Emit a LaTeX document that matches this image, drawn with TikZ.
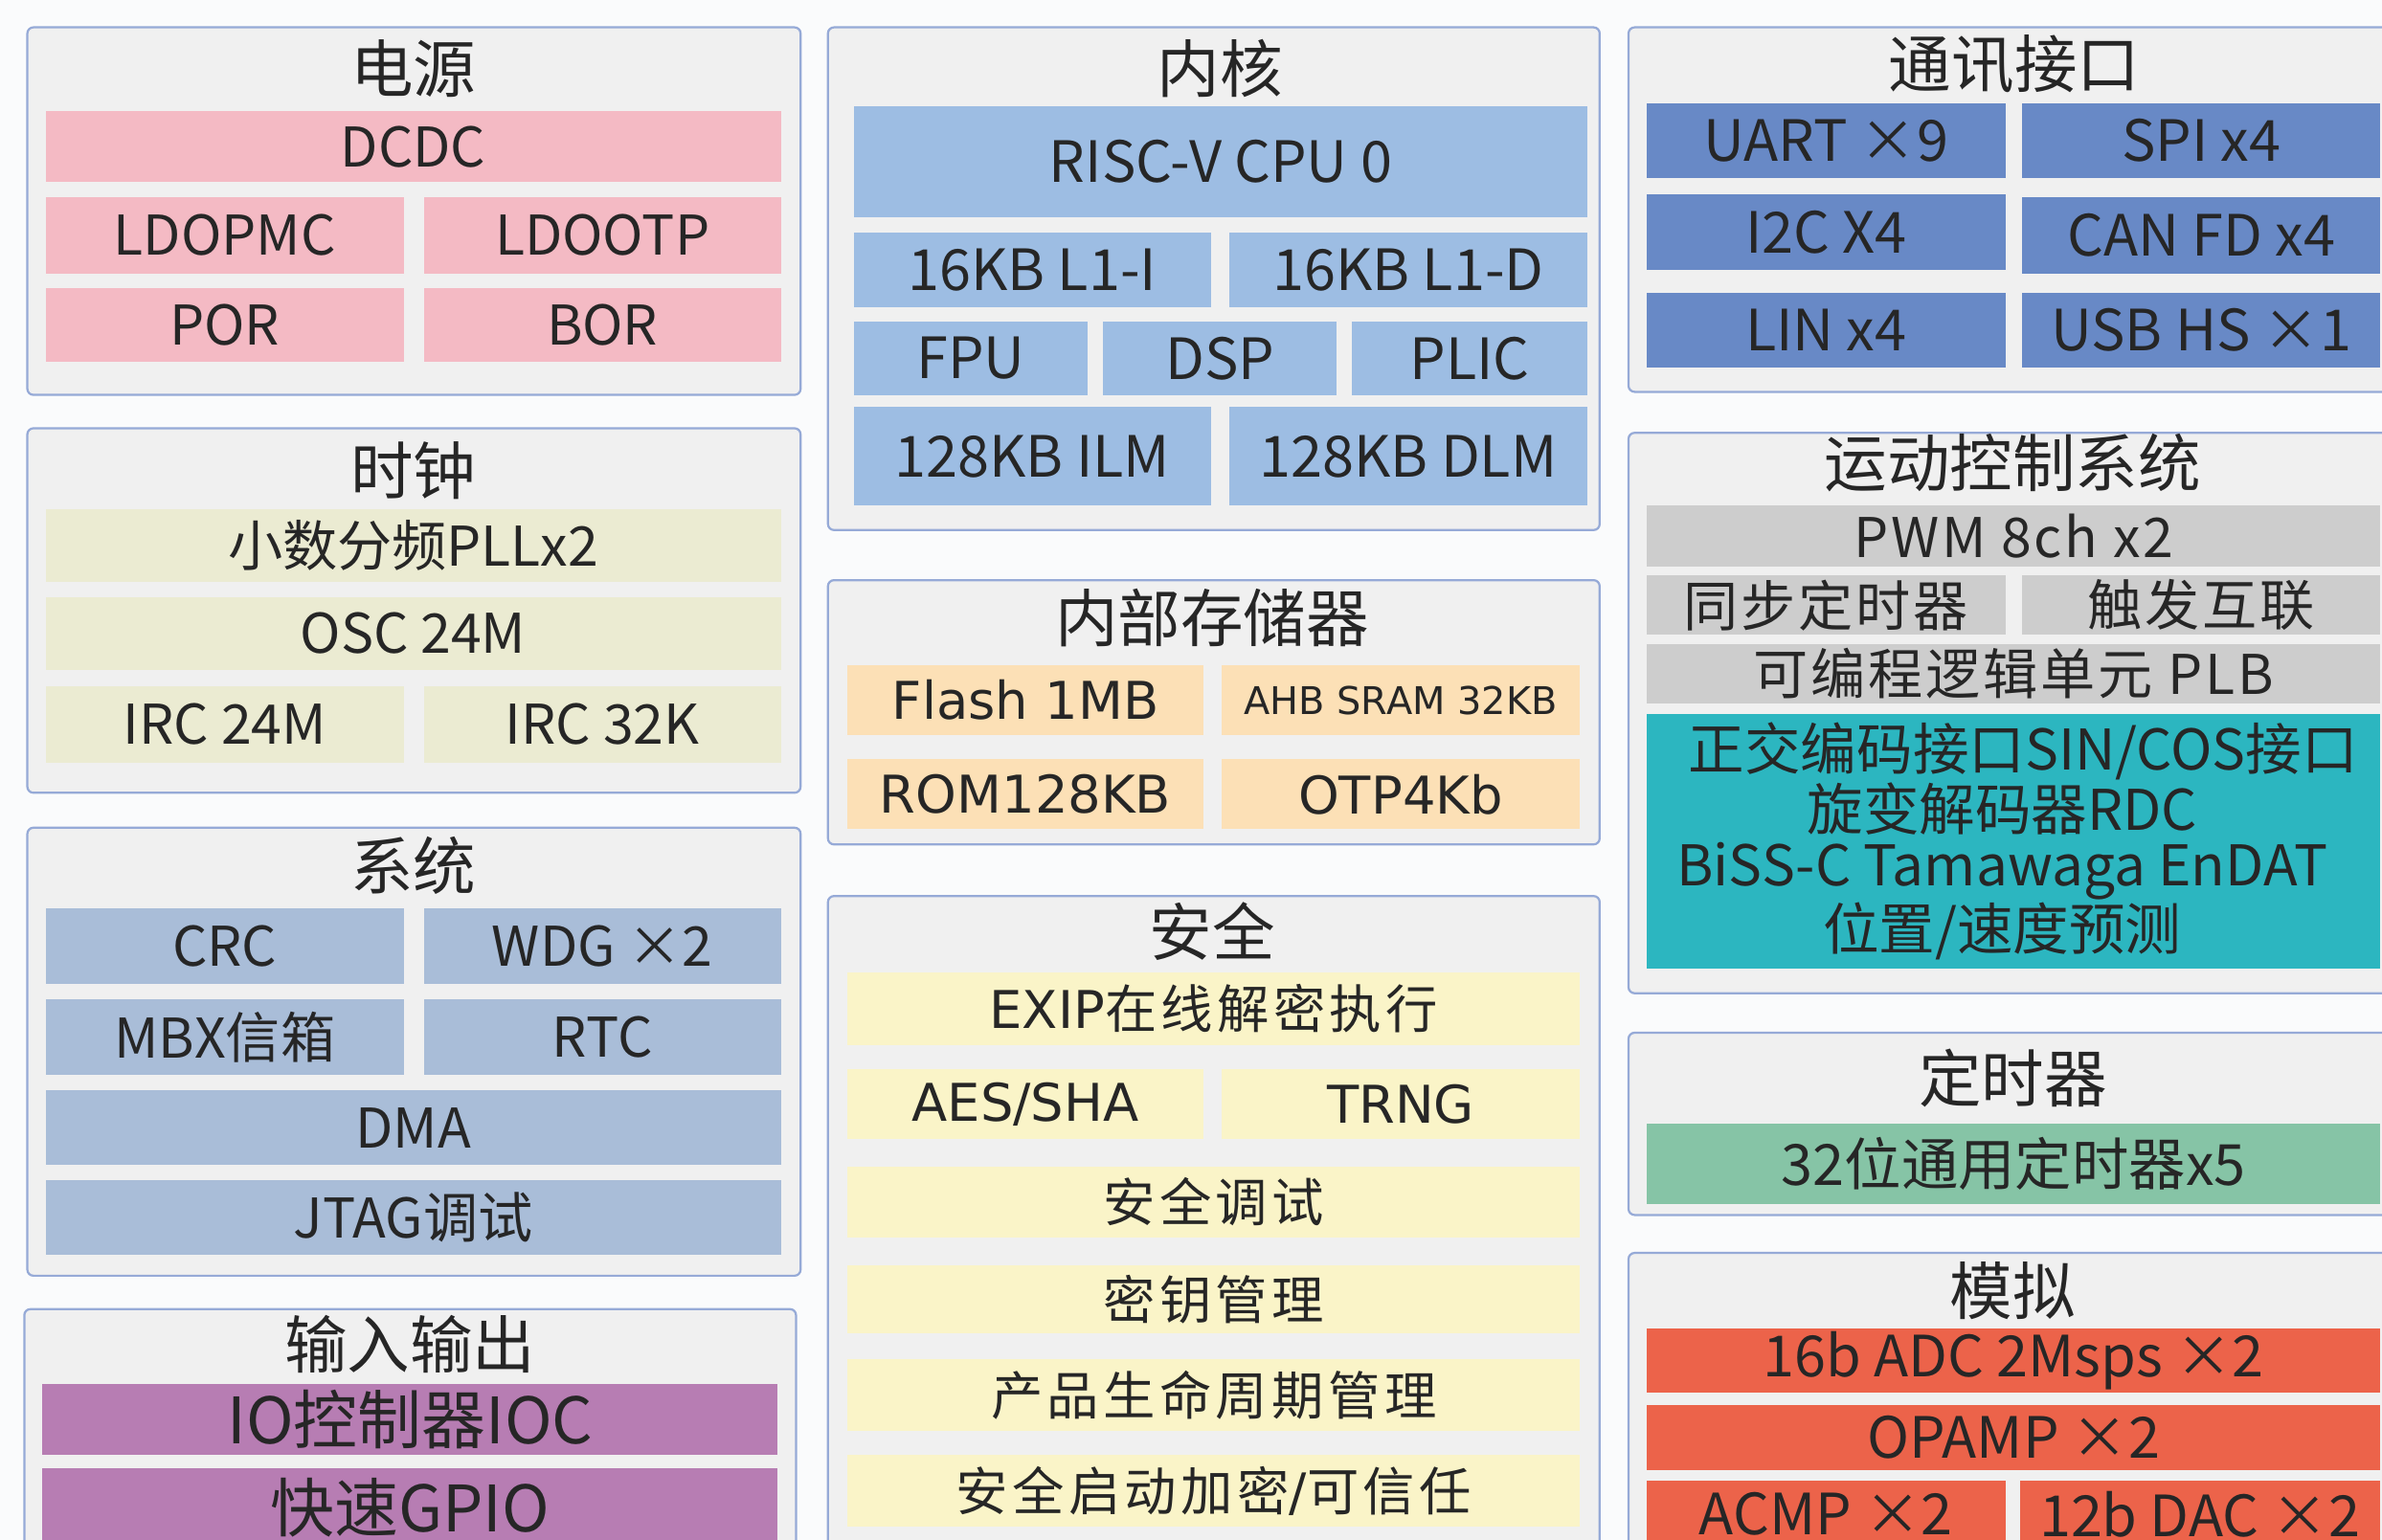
\documentclass[tikz,border=0pt]{standalone}
\usepackage{fontspec}
\setmainfont{Noto Sans CJK SC}
\newfontfamily\cjs[LetterSpace=8]{Noto Sans CJK SC}
\newfontfamily\semif[LetterSpace=5]{Noto Sans CJK SC}
\newfontfamily\dvf{DejaVu Sans}
\definecolor{bgc}{RGB}{250,251,252}
\definecolor{grpf}{RGB}{240,240,240}
\definecolor{grpb}{RGB}{150,170,215}
\definecolor{txt}{RGB}{38,38,38}
\definecolor{pinkc}{RGB}{244,186,196}
\definecolor{corec}{RGB}{157,189,227}
\definecolor{commc}{RGB}{104,137,198}
\definecolor{clkc}{RGB}{235,235,210}
\definecolor{sysc}{RGB}{169,189,216}
\definecolor{ioc}{RGB}{183,125,179}
\definecolor{memc}{RGB}{252,224,182}
\definecolor{secc}{RGB}{250,244,200}
\definecolor{motc}{RGB}{205,205,205}
\definecolor{tealc}{RGB}{44,182,192}
\definecolor{timc}{RGB}{134,196,166}
\definecolor{anac}{RGB}{236,99,74}
\newcommand\blk[7]{%
  \pgfmathsetmacro\bw{(#4-#2)*0.2}%
  \pgfmathsetmacro\bh{(#5-#3)*0.2}%
  \node[#6,minimum width=\bw mm,minimum height=\bh mm] (#1) at ({(#2+#4)/2},{(#3+#5)/2}) {#7};}
\tikzset{
  grp/.style={draw=grpb,fill=grpf,line width=0.8pt,rounded corners=0.8mm,inner sep=0pt,outer sep=0pt},
  cellbox/.style={inner sep=0pt,outer sep=0pt,text=txt,align=center,font=\fontsize{20.5pt}{22pt}\selectfont},
  bigcell/.style={cellbox,font=\fontsize{21.3pt}{23pt}\selectfont},
  ttlbox/.style={inner sep=0pt,outer sep=0pt,text=txt,font=\fontsize{23.5pt}{25pt}\selectfont},
  xpk/.style={cellbox,fill=pinkc},
  xco/.style={bigcell,fill=corec},
  xcm/.style={bigcell,fill=commc},
  xck/.style={cellbox,fill=clkc},
  xsy/.style={cellbox,fill=sysc},
  xio/.style={cellbox,fill=ioc,font=\fontsize{24pt}{26pt}\selectfont},
  xme/.style={cellbox,fill=memc,font=\dvf\fontsize{19.5pt}{21pt}\selectfont},
  xse/.style={cellbox,fill=secc,font=\cjs\fontsize{19.5pt}{21pt}\selectfont},
  xmo/.style={cellbox,fill=motc,font=\semif\fontsize{20.5pt}{22pt}\selectfont},
  xte/.style={cellbox,fill=tealc},
  tealtext/.style={cellbox,font=\fontsize{21pt}{21pt}\selectfont},
  xti/.style={bigcell,fill=timc},
  xan/.style={bigcell,fill=anac},
}
\begin{document}
\begin{tikzpicture}[x=0.2mm,y=-0.2mm]
\clip (0,0) rectangle (1568,1014);
\fill[bgc] (0,0) rectangle (1568,1014);
% ---------- column 1
\blk{gpow}{18}{18}{527}{260}{grp}{}
\node[ttlbox] (tpow) at (272,45) {电源};
\blk{dcdc}{30}{73}{514}{120}{xpk}{DCDC}
\blk{ldopmc}{30}{130}{266}{180}{xpk}{LDOPMC}
\blk{ldootp}{279}{130}{514}{180}{xpk}{LDOOTP}
\blk{por}{30}{190}{266}{238}{xpk}{POR}
\blk{bor}{279}{190}{514}{238}{xpk}{BOR}

\blk{gclk}{18}{282}{527}{522}{grp}{}
\node[ttlbox] (tclk) at (272,310) {时钟};
\blk{pll}{30}{335}{514}{383}{xck}{小数分频PLLx2}
\blk{osc}{30}{393}{514}{441}{xck}{OSC 24M}
\blk{irca}{30}{452}{266}{502}{xck}{IRC 24M}
\blk{ircb}{279}{452}{514}{502}{xck}{IRC 32K}

\blk{gsys}{18}{545}{527}{840}{grp}{}
\node[ttlbox] (tsys) at (272,570) {系统};
\blk{crc}{30}{598}{266}{648}{xsy}{CRC}
\blk{wdg}{279}{598}{514}{648}{xsy}{WDG ×2}
\blk{mbx}{30}{658}{266}{708}{xsy}{MBX信箱}
\blk{rtc}{279}{658}{514}{708}{xsy}{RTC}
\blk{dma}{30}{718}{514}{767}{xsy}{DMA}
\blk{jtag}{30}{777}{514}{826}{xsy}{JTAG调试}

\blk{gio}{16}{862}{524}{1060}{grp}{}
\node[ttlbox] (tio) at (270,885) {输入输出};
\blk{ioctl}{28}{911}{512}{958}{xio}{IO控制器IOC}
\blk{gpio}{28}{967}{512}{1040}{xio}{}
\node[cellbox,font=\fontsize{24pt}{26pt}\selectfont] (gpiot) at (270,993) {快速GPIO};
% ---------- column 2
\blk{gcore}{545}{18}{1053}{349}{grp}{}
\node[ttlbox] (tcore) at (803,45) {内核};
\blk{risc}{562}{70}{1045}{143}{xco}{RISC-V CPU 0}
\blk{l1i}{562}{153}{797}{202}{xco}{16KB L1-I}
\blk{l1d}{809}{153}{1045}{202}{xco}{16KB L1-D}
\blk{fpu}{562}{212}{716}{260}{xco}{FPU}
\blk{dsp}{726}{212}{880}{260}{xco}{DSP}
\blk{plic}{890}{212}{1045}{260}{xco}{PLIC}
\blk{ilm}{562}{268}{797}{333}{xco}{128KB ILM}
\blk{dlm}{809}{268}{1045}{333}{xco}{128KB DLM}

\blk{gmem}{545}{382}{1053}{556}{grp}{}
\node[ttlbox] (tmem) at (798,407) {内部存储器};
\blk{flash}{558}{438}{792}{484}{xme}{Flash 1MB}
\blk{sram}{804}{438}{1040}{484}{xme,font=\dvf\fontsize{14.3pt}{16pt}\selectfont}{AHB SRAM 32KB}
\blk{rom}{558}{500}{792}{546}{xme}{ROM128KB}
\blk{otp}{804}{500}{1040}{546}{xme}{OTP4Kb}

\blk{gsec}{545}{590}{1053}{1060}{grp}{}
\node[ttlbox] (tsec) at (798,613) {安全};
\blk{exip}{558}{640}{1040}{688}{xse}{{\dvf EXIP}在线解密执行}
\blk{aes}{558}{704}{792}{750}{xse}{\dvf AES/SHA}
\blk{trng}{804}{704}{1040}{750}{xse}{\dvf TRNG}
\blk{sdbg}{558}{768}{1040}{815}{xse}{安全调试}
\blk{key}{558}{833}{1040}{878}{xse}{密钥管理}
\blk{life}{558}{895}{1040}{942}{xse}{产品生命周期管理}
\blk{boot}{558}{958}{1040}{1005}{xse}{安全启动加密{\dvf /}可信任}
% ---------- column 3
\blk{gcomm}{1072}{18}{1580}{258}{grp}{}
\node[ttlbox] (tcomm) at (1326,42) {通讯接口};
\blk{uart}{1084}{68}{1320}{117}{xcm}{UART ×9}
\blk{spi}{1331}{68}{1567}{117}{xcm}{SPI x4}
\blk{iic}{1084}{128}{1320}{178}{xcm}{I2C X4}
\blk{can}{1331}{130}{1567}{180}{xcm}{CAN FD x4}
\blk{lin}{1084}{193}{1320}{242}{xcm}{LIN x4}
\blk{usb}{1331}{193}{1567}{242}{xcm}{USB HS ×1}

\blk{gmot}{1072}{285}{1580}{654}{grp}{}
\node[ttlbox] (tmot) at (1325,305) {运动控制系统};
\blk{pwm}{1084}{333}{1567}{373}{xmo}{PWM 8ch x2}
\blk{sync}{1084}{379}{1320}{418}{xmo}{同步定时器}
\blk{trig}{1331}{379}{1567}{418}{xmo}{触发互联}
\blk{plb}{1084}{424}{1567}{463}{xmo}{可编程逻辑单元 PLB}
\blk{enc}{1084}{470}{1567}{638}{xte}{}
\node[tealtext] (enct) at (1318,554) {\hspace*{0.75em}正交编码接口SIN/COS接口\\旋变解码器RDC\\BiSS-C Tamawaga EnDAT\\位置/速度预测};

\blk{gtim}{1072}{680}{1580}{800}{grp}{}
\node[ttlbox] (ttim) at (1325,710) {定时器};
\blk{t32}{1084}{740}{1567}{793}{xti}{32位通用定时器x5}

\blk{gana}{1072}{825}{1580}{1060}{grp}{}
\node[ttlbox] (tana) at (1325,850) {模拟};
\blk{adc}{1084}{875}{1567}{917}{xan}{16b ADC 2Msps ×2}
\blk{opamp}{1084}{925}{1567}{968}{xan}{OPAMP ×2}
\blk{acmp}{1084}{975}{1320}{1040}{xan}{}
\blk{dac}{1330}{975}{1567}{1040}{xan}{}
\node[bigcell] (acmpt) at (1202,997) {ACMP ×2};
\node[bigcell] (dact) at (1448,997) {12b DAC ×2};
\end{tikzpicture}
\end{document}
